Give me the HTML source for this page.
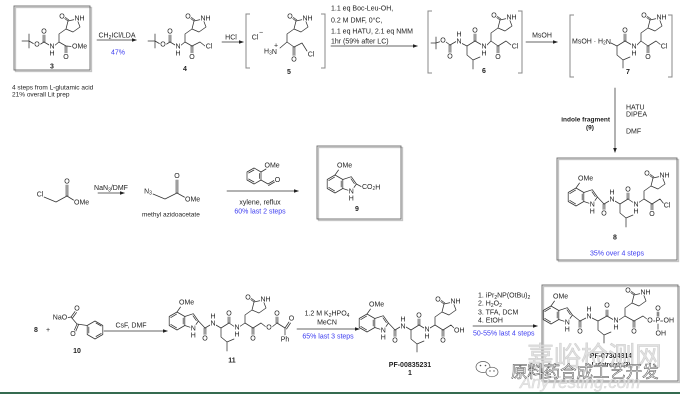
<!DOCTYPE html>
<html><head><meta charset="utf-8"><style>
html,body{margin:0;padding:0;background:#fff;}
svg{display:block;}
text{font-family:"Liberation Sans","Noto Sans CJK SC",sans-serif;}
.a{font-size:7px;fill:#222;text-anchor:middle;dominant-baseline:central;stroke:#fff;stroke-width:2;paint-order:stroke fill;stroke-linejoin:round;}
.al{font-size:7px;fill:#222;text-anchor:start;dominant-baseline:central;stroke:#fff;stroke-width:2;paint-order:stroke fill;stroke-linejoin:round;}
.t{font-size:7px;fill:#222;}
.tm{font-size:7px;fill:#222;text-anchor:middle;}
.s{font-size:6.5px;fill:#222;}
.b{font-size:7px;font-weight:bold;fill:#222;text-anchor:middle;}
.bl{font-size:7px;fill:#3b3bf0;}
.blm{font-size:7px;fill:#3b3bf0;text-anchor:middle;}
.k{fill:none;stroke:#333;stroke-width:0.75;stroke-linecap:round;stroke-linejoin:round;}
.br{fill:none;stroke:#888;stroke-width:1;}
.box{fill:none;stroke:#6a6a6a;stroke-width:0.9;}
.sh{fill:none;stroke:#c4c4c4;stroke-width:1.3;}
</style></head><body>
<svg width="680" height="401" viewBox="0 0 680 401" xmlns="http://www.w3.org/2000/svg">
<defs>
<g id="lac" fill="none" stroke="#333" stroke-width="0.75" stroke-linejoin="round" stroke-linecap="round">
<path d="M0,0 L0,-8 L7,-13 L9,-21 L18,-23 L21,-15 L14,-10 L7,-13"/>
<path d="M9,-21 L5,-24 M9.8,-22 L5.8,-25"/>
</g>
<g id="ind" fill="none" stroke="#333" stroke-width="0.75" stroke-linejoin="round" stroke-linecap="round">
<path d="M0,-9 L7.8,-4.5 L7.8,4.5 L0,9 L-7.8,4.5 L-7.8,-4.5 Z"/>
<path d="M7.8,-4.5 L16.3,-7.3 L21.4,0 L16.3,7.3 L7.8,4.5"/>
<path d="M-6.2,-3.4 L-0.4,-6.9 M-6.2,3.4 L-0.4,6.9 M6.2,-3 L6.2,3 M16.0,-5.2 L19.3,-0.4"/>
<path d="M0,-9 L3.5,-14"/>
</g>
<g id="tri"><polygon points="0,0 -5,-1.8 -5,1.8" fill="#222"/></g>
</defs>

<!-- ===== TOP ROW ===== -->
<rect x="15.5" y="7.5" width="76" height="64" class="sh"/>
<rect x="14" y="6" width="76" height="64" class="box"/>
<path class="k" d="M29,41 L22,41 M29,41 L29,34 M29,41 L29,48 M29,41 L35,44.5 M39,45 L44,42 L50,45.5 M54,46 L59,42 L66,46 L72,46.5"/>
<path class="k" d="M43.1,42 L43.1,35 M44.9,42 L44.9,35 M65.1,46 L65.1,54 M66.9,46 L66.9,54"/>
<use href="#lac" x="59" y="42"/>
<text class="a" x="37" y="45">O</text>
<text class="a" x="44" y="32">O</text>
<text class="a" x="52" y="47">N</text>
<text class="a" x="52" y="54">H</text>
<text class="a" x="66" y="57.5">O</text>
<text class="al" x="72" y="47">OMe</text>
<text class="a" x="62" y="17">O</text>
<text class="al" x="74.5" y="19">NH</text>
<text class="b" x="52" y="68.5">3</text>
<text class="s" x="12" y="89.5">4 steps from L-glutamic acid</text>
<text class="s" x="12" y="96.5">21% overall  Lit prep</text>

<path class="k" d="M97,40 L136,40"/><use href="#tri" x="137" y="40"/>
<text class="tm" x="117" y="37.5">CH<tspan font-size="5" dy="1.5">2</tspan><tspan dy="-1.5">ICl/LDA</tspan></text>
<text class="blm" x="118" y="54.5">47%</text>

<path class="k" d="M155,41 L148,41 M155,41 L155,34 M155,41 L155,48 M155,41 L161,44.5 M165,45 L170,42 L176,45.5 M180,46 L185,42 L192,46 L200,42 L205,46"/>
<path class="k" d="M169.1,42 L169.1,35 M170.9,42 L170.9,35 M191.1,46 L191.1,54 M192.9,46 L192.9,54"/>
<use href="#lac" x="185" y="42"/>
<text class="a" x="163" y="45">O</text>
<text class="a" x="170" y="32">O</text>
<text class="a" x="178" y="47">N</text>
<text class="a" x="178" y="54">H</text>
<text class="a" x="192" y="57.5">O</text>
<text class="a" x="209" y="47">Cl</text>
<text class="a" x="188" y="17">O</text>
<text class="al" x="200.5" y="19">NH</text>
<text class="b" x="185" y="71">4</text>

<path class="k" d="M222,42 L243,42"/><use href="#tri" x="244" y="42"/>
<text class="tm" x="231" y="39.5">HCl</text>

<path class="br" d="M250,14 L246,14 L246,68 L250,68"/>
<path class="br" d="M321,14 L325,14 L325,68 L321,68"/>
<text class="a" x="255" y="38">Cl</text><text class="a" x="261" y="33" font-size="6">−</text>
<text class="al" x="264" y="52">H<tspan font-size="5" dy="1.5">3</tspan><tspan dy="-1.5">N</tspan></text>
<text class="a" x="276" y="46" font-size="6">+</text>
<path class="k" d="M280,48 L287,42 L294,47 L302,43 L307,51"/>
<path class="k" d="M293.1,47 L293.1,56 M294.9,47 L294.9,56"/>
<use href="#lac" x="287" y="42"/>
<text class="a" x="294" y="60">O</text>
<text class="a" x="311" y="55">Cl</text>
<text class="a" x="290" y="17">O</text>
<text class="al" x="302.5" y="19">NH</text>
<text class="b" x="289" y="74">5</text>

<text class="t" x="331" y="10.5">1.1 eq Boc-Leu-OH,</text>
<text class="t" x="331" y="22.5">0.2 M DMF, 0°C,</text>
<text class="t" x="331" y="33.5">1.1 eq HATU, 2.1 eq NMM</text>
<text class="t" x="331" y="43.5">1hr (59% after LC)</text>
<path class="k" d="M331,46 L417,46"/><use href="#tri" x="418" y="46"/>

<path class="br" d="M432,11 L428,11 L428,73 L432,73"/>
<path class="br" d="M518,11 L522,11 L522,73 L518,73"/>
<path class="k" d="M436,43 L431,43 M436,43 L436,37 M436,43 L436,49 M436,43 L440.5,41.5 M446,42 L450,45 L457,41 M461,43 L467,46 L475,41 L482,45 M486,46 L491,41 L498,46 L506,41 L511,45"/>
<path class="k" d="M449.1,45 L449.1,53 M450.9,45 L450.9,53 M474.1,41 L474.1,34 M475.9,41 L475.9,34 M497.1,46 L497.1,54 M498.9,46 L498.9,54"/>
<path class="k" d="M467,46 L467,55 L473,60 L480,57 M473,60 L473,69"/>
<use href="#lac" x="491" y="41"/>
<text class="a" x="443" y="41">O</text>
<text class="a" x="450" y="57">O</text>
<text class="a" x="459" y="42">N</text>
<text class="a" x="459" y="35">H</text>
<text class="a" x="475" y="31">O</text>
<text class="a" x="484" y="47">N</text>
<text class="a" x="484" y="54">H</text>
<text class="a" x="498" y="57.5">O</text>
<text class="a" x="515" y="47">Cl</text>
<text class="a" x="494" y="16">O</text>
<text class="al" x="506.5" y="18">NH</text>
<text class="b" x="484" y="73">6</text>

<path class="k" d="M526,42 L557,42"/><use href="#tri" x="558" y="42"/>
<text class="tm" x="542" y="37.5">MsOH</text>

<path class="br" d="M574,15 L570,15 L570,77 L574,77"/>
<path class="br" d="M668,15 L672,15 L672,77 L668,77"/>
<text class="al" x="572" y="42">MsOH · H<tspan font-size="5" dy="1.5">2</tspan><tspan dy="-1.5">N</tspan></text>
<path class="k" d="M611,43 L617,46 L625,41 L632,45 M636,46 L641,41 L648,46 L656,41 L661,45"/>
<path class="k" d="M624.1,41 L624.1,34 M625.9,41 L625.9,34 M647.1,46 L647.1,54 M648.9,46 L648.9,54"/>
<path class="k" d="M617,46 L617,55 L623,60 L630,57 M623,60 L623,68"/>
<use href="#lac" x="641" y="41"/>
<text class="a" x="625" y="31">O</text>
<text class="a" x="634" y="47">N</text>
<text class="a" x="634" y="54">H</text>
<text class="a" x="648" y="57.5">O</text>
<text class="a" x="664" y="47">Cl</text>
<text class="a" x="644" y="16">O</text>
<text class="al" x="656.5" y="18">NH</text>
<text class="b" x="628" y="74">7</text>

<path class="k" d="M615,88 L615,151"/>
<polygon points="615,153 613.2,148 616.8,148" fill="#222"/>
<text class="t" x="626" y="109.5">HATU</text>
<text class="t" x="626" y="116.5">DIPEA</text>
<text class="t" x="626" y="133.5">DMF</text>
<text class="b" x="610" y="121.5" style="text-anchor:end;font-size:6.5px">indole fragment</text>
<text class="b" x="590" y="129.5" style="font-size:6.5px">(9)</text>

<!-- ===== MIDDLE ROW ===== -->
<path class="k" d="M44,197 L56,202 L67,196 L75,201"/>
<path class="k" d="M66.1,196 L66.1,185 M67.9,196 L67.9,185"/>
<text class="a" x="40" y="195">Cl</text>
<text class="a" x="67" y="182">O</text>
<text class="al" x="74" y="203">OMe</text>
<path class="k" d="M98,193 L124,193"/><use href="#tri" x="125" y="193"/>
<text class="tm" x="111" y="190">NaN<tspan font-size="5" dy="1.5">3</tspan><tspan dy="-1.5">/DMF</tspan></text>
<path class="k" d="M153,194 L165,199 L177,193 L186,198"/>
<path class="k" d="M176.1,193 L176.1,180 M177.9,193 L177.9,180"/>
<text class="a" x="148" y="192">N<tspan font-size="5" dy="1.5">3</tspan></text>
<text class="a" x="177" y="176.5">O</text>
<text class="al" x="185" y="200">OMe</text>
<text class="s" x="142" y="216.5">methyl azidoacetate</text>
<path class="k" d="M227,191 L298,191"/><use href="#tri" x="299" y="191"/>
<path class="k" d="M254,168 L261,172 L261,180 L254,184 L247,180 L247,172 Z M248.6,173 L254,170 M259.5,173.5 L259.5,178.5 M248.6,179 L254,182"/>
<path class="k" d="M261,172 L266,169 M261,180 L268,184 L274,180.5 M268.5,185.5 L274.6,182"/>
<text class="al" x="264.5" y="166">OMe</text>
<text class="a" x="277.5" y="180.5">O</text>
<text class="tm" x="260" y="204.5">xylene, reflux</text>
<text class="blm" x="260" y="213.5">60% last 2 steps</text>
<rect x="318.5" y="147.5" width="84" height="73" class="sh"/>
<rect x="317" y="146" width="84" height="73" class="box"/>
<use href="#ind" x="335" y="184"/>
<path class="k" d="M356.4,184 L362,187"/>
<text class="al" x="337" y="166">OMe</text>
<text class="al" x="362" y="187.5">CO<tspan font-size="5" dy="1.5">2</tspan><tspan dy="-1.5">H</tspan></text>
<text class="a" x="351.3" y="192">N</text>
<text class="a" x="351.3" y="199">H</text>
<text class="b" x="357" y="211">9</text>

<rect x="558.5" y="159.5" width="120" height="102" class="sh"/>
<rect x="557" y="158" width="120" height="102" class="box"/>
<use href="#ind" x="576" y="197"/>
<path class="k" d="M597.4,197 L604,204 L610,200.5 M614,200.5 L620,204 L628,199 L634,203 M638,203 L644,199 L652,204 L660,199 L664,204"/>
<path class="k" d="M603.1,204 L603.1,211 M604.9,204 L604.9,211 M627.1,199 L627.1,193 M628.9,199 L628.9,193 M651.1,204 L651.1,211 M652.9,204 L652.9,211"/>
<path class="k" d="M620,204 L620,213 L626,218 L633,215 M626,218 L626,227"/>
<use href="#lac" x="644" y="199"/>
<text class="al" x="578" y="179">OMe</text>
<text class="a" x="592.3" y="205">N</text>
<text class="a" x="592.3" y="212">H</text>
<text class="a" x="604" y="214">O</text>
<text class="a" x="612" y="200">N</text>
<text class="a" x="612" y="193">H</text>
<text class="a" x="628" y="190">O</text>
<text class="a" x="636" y="205">N</text>
<text class="a" x="636" y="212">H</text>
<text class="a" x="652" y="214.5">O</text>
<text class="a" x="667" y="206">Cl</text>
<text class="a" x="647" y="174">O</text>
<text class="al" x="659.5" y="176">NH</text>
<text class="b" x="615" y="239.5">8</text>
<text class="blm" x="617" y="255.5">35% over 4 steps</text>

<!-- ===== BOTTOM ROW ===== -->
<text class="b" x="36" y="332">8</text>
<text class="tm" x="48" y="332">+</text>
<path class="k" d="M66,318 L71,317 L77,324 L87.2,325.5"/>
<path class="k" d="M71,317 L75,311.5 M72.5,318 L76.5,312.5 M77,324 L74,331 M78.5,324.8 L75.5,331.8"/>
<path class="k" d="M95,321 L102.8,325.5 L102.8,334.5 L95,339 L87.2,334.5 L87.2,325.5 Z M96,323 L101.2,326 M101.2,333.5 L96,336.5 M88.8,327 L88.8,333"/>
<text class="a" x="60" y="318">NaO</text>
<text class="a" x="77" y="309">O</text>
<text class="a" x="73" y="334.5">O</text>
<text class="b" x="77" y="353">10</text>
<path class="k" d="M104,331 L167,331"/><use href="#tri" x="168" y="331"/>
<text class="tm" x="131" y="327.5">CsF, DMF</text>
<use href="#ind" x="177" y="321"/>
<path class="k" d="M198.4,321 L205,328 L211,324.5 M215,324.5 L221,328 L229,323 L235,327 M239,327 L245,323 L253,328 L261,323 L266,327 M272,327 L277,323 L285,328"/>
<path class="k" d="M204.1,328 L204.1,335 M205.9,328 L205.9,335 M228.1,323 L228.1,317 M229.9,323 L229.9,317 M252.1,328 L252.1,335 M253.9,328 L253.9,335 M276.1,323 L276.1,317 M277.9,323 L277.9,317 M285,328 L289,322 M286.5,329 L290.5,323 M285,328 L285,335"/>
<path class="k" d="M221,328 L221,337 L227,342 L234,339 M227,342 L227,351"/>
<use href="#lac" x="245" y="323"/>
<text class="al" x="179" y="303">OMe</text>
<text class="a" x="193.3" y="329">N</text>
<text class="a" x="193.3" y="336">H</text>
<text class="a" x="205" y="339">O</text>
<text class="a" x="213" y="324">N</text>
<text class="a" x="213" y="317">H</text>
<text class="a" x="229" y="314">O</text>
<text class="a" x="237" y="328">N</text>
<text class="a" x="237" y="335">H</text>
<text class="a" x="253" y="339">O</text>
<text class="a" x="269" y="328">O</text>
<text class="a" x="277" y="314">O</text>
<text class="a" x="291.5" y="319">O</text>
<text class="a" x="285" y="340">Ph</text>
<text class="a" x="248" y="298">O</text>
<text class="al" x="260.5" y="300">NH</text>
<text class="b" x="232" y="362.5">11</text>
<path class="k" d="M297,329 L359,329"/><use href="#tri" x="360" y="329"/>
<text class="tm" x="327" y="315.5">1.2 M K<tspan font-size="5" dy="1.5">2</tspan><tspan dy="-1.5">HPO</tspan><tspan font-size="5" dy="1.5">4</tspan></text>
<text class="tm" x="327" y="324.5">MeCN</text>
<text class="blm" x="328" y="338.5">65% last 3 steps</text>
<use href="#ind" x="367" y="323"/>
<path class="k" d="M388.4,323 L395,330 L400,327 M406,327 L411,330 L419,325 L424,328 M430,328 L435,325 L443,330 L451,325 L455,329"/>
<path class="k" d="M394.1,330 L394.1,337 M395.9,330 L395.9,337 M418.1,325 L418.1,319 M419.9,325 L419.9,319 M442.1,330 L442.1,337 M443.9,330 L443.9,337"/>
<path class="k" d="M411,330 L411,339 L417,344 L424,341 M417,344 L417,352"/>
<use href="#lac" x="435" y="325"/>
<text class="al" x="369" y="305">OMe</text>
<text class="a" x="383.3" y="331">N</text>
<text class="a" x="383.3" y="338">H</text>
<text class="a" x="395" y="341">O</text>
<text class="a" x="403" y="327">N</text>
<text class="a" x="403" y="320">H</text>
<text class="a" x="419" y="316">O</text>
<text class="a" x="427" y="330">N</text>
<text class="a" x="427" y="337">H</text>
<text class="a" x="443" y="341">O</text>
<text class="al" x="454" y="331">OH</text>
<text class="a" x="438" y="300">O</text>
<text class="al" x="450.5" y="302">NH</text>
<text class="b" x="410" y="367">PF-00835231</text>
<text class="b" x="410" y="375">1</text>
<text class="t" x="478" y="297.5">1. iPr<tspan font-size="5" dy="1.5">2</tspan><tspan dy="-1.5">NP(OtBu)</tspan><tspan font-size="5" dy="1.5">2</tspan></text>
<text class="t" x="478" y="305.5">2. H<tspan font-size="5" dy="1.5">2</tspan><tspan dy="-1.5">O</tspan><tspan font-size="5" dy="1.5">2</tspan></text>
<text class="t" x="478" y="314.5">3. TFA, DCM</text>
<text class="t" x="478" y="322.5">4. EtOH</text>
<path class="k" d="M473,326 L537,326"/><use href="#tri" x="538" y="326"/>
<text class="bl" x="473" y="335.5">50-55% last 4 steps</text>
<rect x="543.5" y="286.5" width="136" height="96" class="sh"/>
<rect x="542" y="285" width="136" height="96" class="box"/>
<use href="#ind" x="551" y="315"/>
<path class="k" d="M572.4,315 L580,321 L586,318 M592,318 L598,321 L607,316 L613,319.5 M619,320 L625,316 L634,321 L643,316 L647.5,319.5 M652.5,321 L655.5,321 M660.5,321 L664,321"/>
<path class="k" d="M579.1,321 L579.1,328 M580.9,321 L580.9,328 M606.1,316 L606.1,310 M607.9,316 L607.9,310 M633.1,321 L633.1,328 M634.9,321 L634.9,328 M657.2,318 L657.2,312 M658.8,318 L658.8,312 M658,324 L658,330"/>
<path class="k" d="M598,321 L598,330 L604,335 L611,332 M604,335 L604,343"/>
<use href="#lac" x="625" y="316"/>
<text class="al" x="553" y="297">OMe</text>
<text class="a" x="567.3" y="323">N</text>
<text class="a" x="567.3" y="330">H</text>
<text class="a" x="580" y="332">O</text>
<text class="a" x="589" y="317">N</text>
<text class="a" x="589" y="310">H</text>
<text class="a" x="607" y="306">O</text>
<text class="a" x="616" y="321">N</text>
<text class="a" x="616" y="328">H</text>
<text class="a" x="634" y="332">O</text>
<text class="a" x="650" y="321">O</text>
<text class="a" x="658" y="321">P</text>
<text class="al" x="663.5" y="321">OH</text>
<text class="a" x="658" y="309">O</text>
<text class="al" x="655.5" y="334">OH</text>
<text class="a" x="628" y="291">O</text>
<text class="al" x="640.5" y="293">NH</text>
<text class="b" x="611" y="358">PF-07304814</text>
<text class="b" x="611" y="366.5" style="font-size:6px">Lufotrelvir (2)</text>

<!-- watermark -->
<text x="527" y="366" font-size="27" fill="#dcdcdc" stroke="#c8c8c8" stroke-width="0.6" style="font-family:'Noto Sans CJK SC','WenQuanYi Zen Hei',sans-serif" opacity="0.85">嘉峪检测网</text>
<text x="520" y="388" font-size="17" font-style="italic" fill="#e2e2e2" stroke="#d0d0d0" stroke-width="0.5" opacity="0.85">AnyTesting.com</text>
<ellipse cx="483" cy="367" rx="7" ry="5.5" fill="#fff" stroke="#555" stroke-width="0.7"/>
<ellipse cx="492" cy="372" rx="6" ry="4.8" fill="#fff" stroke="#555" stroke-width="0.7"/>
<circle cx="480.5" cy="365.5" r="0.8" fill="#555"/><circle cx="485.5" cy="365.5" r="0.8" fill="#555"/>
<circle cx="490" cy="371" r="0.7" fill="#555"/><circle cx="494" cy="371" r="0.7" fill="#555"/>
<text x="511" y="377.5" font-size="16.4" fill="#f6f6f6" stroke="#444" stroke-width="0.45" style="font-family:'Noto Sans CJK SC','WenQuanYi Zen Hei',sans-serif">原料药合成工艺开发</text>

<rect x="0" y="392" width="680" height="2" fill="#356b50"/>
</svg>
</body></html>
